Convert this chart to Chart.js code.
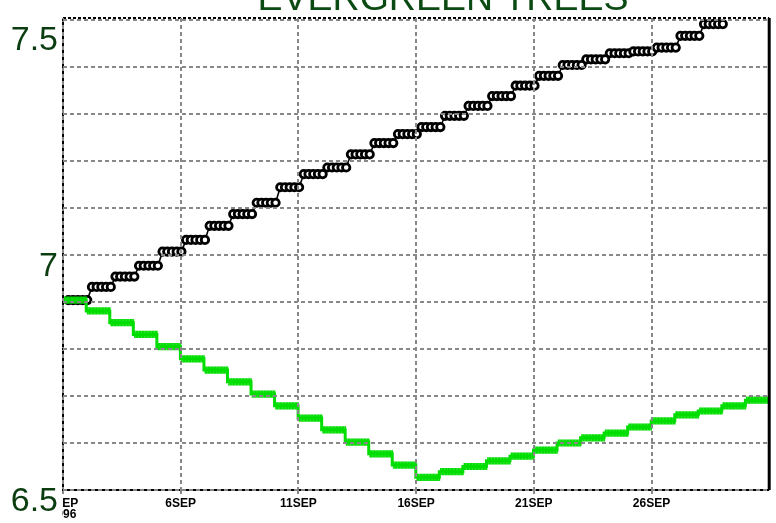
<!DOCTYPE html>
<html>
<head>
<meta charset="utf-8">
<script src="https://cdn.jsdelivr.net/npm/chart.js@4.4.1/dist/chart.umd.min.js"></script>
<style>
  html, body { margin: 0; padding: 0; background: #ffffff; }
  #wrap { width: 776px; height: 523px; }
</style>
</head>
<body>
<div id="wrap"><canvas id="c" width="776" height="523"></canvas></div>
<script>
// ---- data ----
const titleText = "EVERGREEN TREES";
// day index 0 = 1 SEP (1996)
const blackDaily = [6.904, 6.932, 6.954, 6.977, 7.007, 7.032, 7.062, 7.087, 7.111, 7.144,
                    7.172, 7.186, 7.214, 7.238, 7.257, 7.272, 7.296, 7.317, 7.338, 7.360,
                    7.381, 7.404, 7.416, 7.429, 7.433, 7.441, 7.466, 7.491];
const greenDaily = [6.904, 6.881, 6.856, 6.831, 6.805, 6.779, 6.755, 6.730, 6.704, 6.679,
                    6.653, 6.628, 6.602, 6.577, 6.553, 6.527, 6.539, 6.550, 6.562, 6.572,
                    6.585, 6.600, 6.611, 6.621, 6.634, 6.647, 6.660, 6.668, 6.679, 6.691];
const xTickValues = [0, 5, 10, 15, 20, 25];
const xTickLabels = [["1SEP", "1996"], "6SEP", "11SEP", "16SEP", "21SEP", "26SEP"];
const yTickValues = [6.5, 6.6, 6.7, 6.8, 6.9, 7.0, 7.1, 7.2, 7.3, 7.4, 7.5];
const yLabelled = [6.5, 7.0, 7.5];

// several readings per day, each day holding its daily value
const blackPts = [];
blackDaily.forEach((v, d) => { for (let k = 1; k <= 5; k++) blackPts.push({ x: d + 0.2 * k + 0.03, y: v }); });
const greenPts = [];
greenDaily.forEach((v, d) => { for (let k = 0; k < 16; k++) greenPts.push({ x: d + 0.05 + k / 16, y: v }); });

const titlePlugin = {
  id: 'titleText',
  afterDraw(chart) {
    const ctx = chart.ctx;
    ctx.save();
    ctx.fillStyle = '#0b4a12';
    ctx.font = '37.5px "Liberation Sans", Arial, sans-serif';
    ctx.textAlign = 'center';
    ctx.textBaseline = 'alphabetic';
    ctx.fillText(titleText, 443, 10);
    ctx.restore();
  }
};

const framePlugin = {
  id: 'frame',
  afterDatasetsDraw(chart) {
    const { left, right, top, bottom } = chart.chartArea;
    const ctx = chart.ctx;
    ctx.save();
    ctx.strokeStyle = '#000';
    ctx.lineWidth = 2;
    ctx.beginPath(); ctx.moveTo(left, top); ctx.lineTo(left, bottom); ctx.lineTo(right, bottom); ctx.stroke();
    ctx.lineWidth = 3;
    ctx.beginPath(); ctx.moveTo(right, top); ctx.lineTo(right, bottom); ctx.stroke();
    ctx.lineWidth = 2;
    ctx.setLineDash([3, 2]);
    ctx.beginPath(); ctx.moveTo(left, top); ctx.lineTo(right, top); ctx.stroke();
    ctx.restore();
  }
};

new Chart(document.getElementById('c'), {
  type: 'line',
  data: {
    datasets: [
      {
        label: 'green',
        data: greenPts,
        order: 0,
        borderColor: '#00dd00',
        borderWidth: 3,
        stepped: 'after',
        pointStyle: 'line',
        pointRotation: 90,
        pointRadius: 3.6,
        pointBorderWidth: 1.6,
        pointBorderColor: '#00dd00',
        pointBackgroundColor: '#00dd00'
      },
      {
        label: 'black',
        data: blackPts,
        order: 1,
        borderColor: '#000000',
        borderWidth: 1.6,
        pointStyle: 'circle',
        pointRadius: 3.7,
        pointBorderWidth: 2.8,
        pointBorderColor: '#000000',
        pointBackgroundColor: '#ffffff'
      }
    ]
  },
  options: {
    responsive: false,
    animation: false,
    devicePixelRatio: 1,
    layout: { padding: { top: 18, right: 3, left: 0, bottom: 0 } },
    plugins: { legend: { display: false }, tooltip: { enabled: false }, title: { display: false } },
    scales: {
      x: {
        type: 'linear',
        min: 0,
        max: 30,
        afterBuildTicks(scale) { scale.ticks = xTickValues.map(v => ({ value: v })); },
        afterFit(scale) { scale.height = 33; scale.paddingLeft = 0; scale.paddingRight = 0; },
        grid: { color: '#888888', lineWidth: 2, z: 1, drawTicks: true, tickLength: 4, tickColor: '#888888' },
        border: { display: false, dash: [4, 3] },
        ticks: {
          autoSkip: false,
          maxRotation: 0,
          minRotation: 0,
          padding: 4,
          z: 2,
          color: '#000000',
          font: { family: '"Liberation Sans Narrow", "Liberation Sans", Arial, sans-serif', size: 12, weight: 'bold', lineHeight: 0.9 },
          callback(v) { const i = xTickValues.indexOf(v); return i >= 0 ? xTickLabels[i] : ''; }
        }
      },
      y: {
        min: 6.5,
        max: 7.504,
        afterBuildTicks(scale) { scale.ticks = yTickValues.map(v => ({ value: v })); },
        afterFit(scale) { scale.width = 63; scale.paddingTop = 0; scale.paddingBottom = 0; },
        grid: { color: '#888888', lineWidth: 2, z: 1, drawTicks: true, tickLength: 3, tickColor: '#000000' },
        border: { display: false, dash: [4, 3] },
        ticks: {
          padding: 2,
          z: 3,
          labelOffset: 12,
          color: '#0b3d10',
          showLabelBackdrop: true,
          backdropColor: '#ffffff',
          backdropPadding: 4,
          font(c) {
            const top = c.tick && Math.abs(c.tick.value - 7.5) < 1e-6;
            return { family: '"Liberation Sans", Arial, sans-serif', size: 34, lineHeight: top ? 0.5 : 1.2 };
          },
          callback(v) {
            const hit = yLabelled.find(t => Math.abs(t - v) < 1e-6);
            if (hit === undefined) return '';
            return hit === 7.5 ? ['', String(hit)] : String(hit);
          }
        }
      }
    }
  },
  plugins: [framePlugin, titlePlugin]
});
</script>
</body>
</html>
